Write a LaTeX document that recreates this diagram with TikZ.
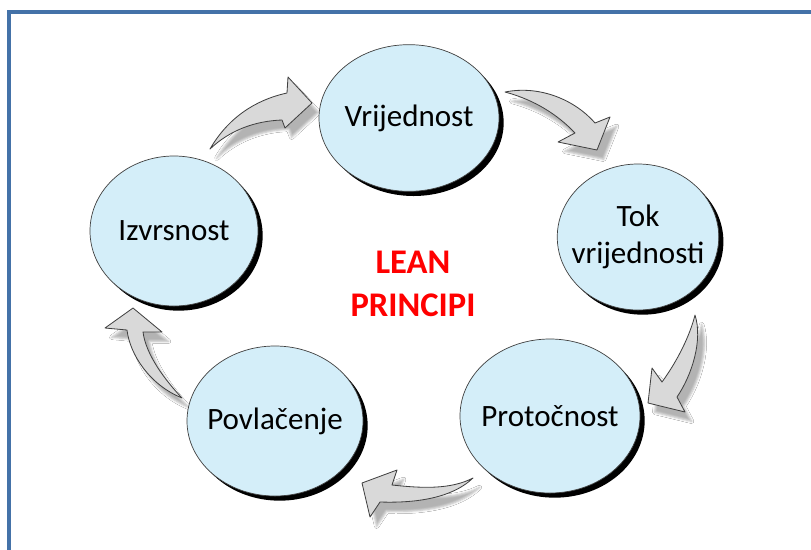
\documentclass[tikz,border=0pt]{standalone}
\usepackage{fontspec}
\setmainfont{Carlito}
\usepackage{tikz}
\usetikzlibrary{shapes.geometric, shadows, shadows.blur, positioning}
\definecolor{bubblefill}{HTML}{D4EEF9}
\definecolor{framecol}{HTML}{4472A8}
\definecolor{arrowfill}{HTML}{D9D9D9}
\tikzstyle{bubble} = [draw=black!75, fill=bubblefill, ellipse, line width=0.6pt,
    inner ysep=0pt, inner xsep=-8pt, align=center, font=\fontsize{26.5}{31}\selectfont,
    general shadow={fill=black, shadow xshift=0.14cm, shadow yshift=-0.14cm}]
\tikzstyle{flow} = [draw=black!75, fill=arrowfill, line width=0.7pt, line join=round,
    blur shadow={shadow xshift=0.2cm, shadow yshift=-0.28cm, shadow opacity=30}]
\tikzstyle{title} = [text=red, align=center, font=\fontsize{29.5}{37}\selectfont\bfseries]

\begin{document}
\begin{tikzpicture}[x=0.03cm, y=-0.03cm]
    \clip (0,0) rectangle (811,549);
    \fill[white] (0,0) rectangle (811,549);
    \draw [framecol, line width=2.8pt] (9,12) rectangle (840,580);

    \path [flow] (210,149) .. controls (228,118) and (255,100) .. (287,93) -- (288,77) -- (312,103)
        -- (285,128) -- (282,120) .. controls (255,121) and (230,130) .. (210,149) -- cycle;
    \path [flow] (505,92) .. controls (540,85) and (575,100) .. (595,123) -- (610,117) -- (597,150)
        -- (558,142) -- (575,133) .. controls (558,115) and (535,100) .. (505,92) -- cycle;
    \path [flow] (695,315) .. controls (703,340) and (692,375) .. (677,397) -- (685,412) -- (648,403)
        -- (652,368) -- (662,382) .. controls (678,360) and (690,335) .. (695,315) -- cycle;
    \path [flow] (473,478) .. controls (450,490) and (420,488) .. (392,485) -- (397,470) -- (362,483)
        -- (370,517) -- (380,502) .. controls (410,503) and (450,500) .. (473,478) -- cycle;
    \path [flow] (182,398) .. controls (165,380) and (146,355) .. (143,332) -- (162,332) -- (133,308)
        -- (105,328) -- (127,330) .. controls (130,355) and (150,385) .. (182,398) -- cycle;

    \node [bubble, minimum width=5.4cm, minimum height=4.4cm] (vrijednost) at (409,118) {Vrijednost};
    \node [bubble, minimum width=4.8cm, minimum height=4.38cm] (tok) at (638,237) {Tok\\vrijednosti};
    \node [bubble, minimum width=5.4cm, minimum height=4.62cm] (protocnost) at (550,416) {Protočnost};
    \node [bubble, minimum width=5.28cm, minimum height=4.5cm] (povlacenje) at (275,421) {Povlačenje};
    \node [bubble, minimum width=5.04cm, minimum height=4.5cm] (izvrsnost) at (174,231) {Izvrsnost};
    \node [title] (lean) at (413,284) {LEAN\\PRINCIPI};
\end{tikzpicture}
\end{document}
